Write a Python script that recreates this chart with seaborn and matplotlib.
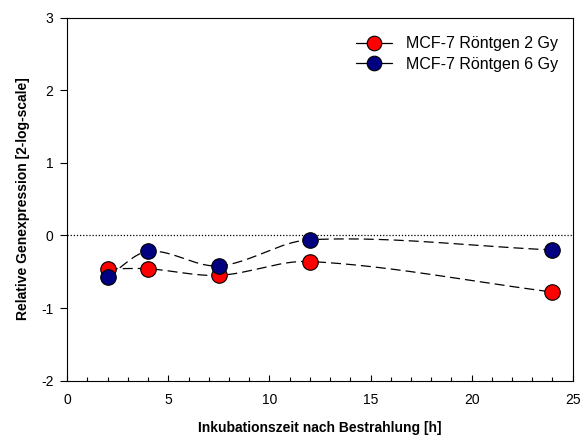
import numpy as np
import pandas as pd
import matplotlib
matplotlib.use("Agg")
import matplotlib.pyplot as plt
from matplotlib.lines import Line2D
import seaborn as sns

# Measured time points and relative expression (log2 scale)
hours = [2, 4, 7.5, 12, 24]
expr_2gy = [-0.46, -0.46, -0.55, -0.36, -0.78]
expr_6gy = [-0.57, -0.22, -0.42, -0.06, -0.20]
series_names = ["MCF-7 Röntgen 2 Gy", "MCF-7 Röntgen 6 Gy"]
series_colors = ["#ff0000", "#000080"]


def smooth_curve(x, y, n=300):
    """Cubic Hermite curve through the points, tangents from neighbouring slopes."""
    x = np.asarray(x, float)
    y = np.asarray(y, float)
    k = len(x)
    m = np.zeros(k)
    m[0] = (y[1] - y[0]) / (x[1] - x[0])
    m[-1] = (y[-1] - y[-2]) / (x[-1] - x[-2])
    for i in range(1, k - 1):
        m[i] = (y[i + 1] - y[i - 1]) / (x[i + 1] - x[i - 1])
    xs = np.linspace(x[0], x[-1], n)
    idx = np.clip(np.searchsorted(x, xs) - 1, 0, k - 2)
    h = x[idx + 1] - x[idx]
    t = (xs - x[idx]) / h
    h00 = 2 * t**3 - 3 * t**2 + 1
    h10 = t**3 - 2 * t**2 + t
    h01 = -2 * t**3 + 3 * t**2
    h11 = t**3 - t**2
    ys = h00 * y[idx] + h10 * h * m[idx] + h01 * y[idx + 1] + h11 * h * m[idx + 1]
    return xs, ys


sns.set_style("ticks")
plt.rcParams["font.family"] = ["Liberation Sans", "DejaVu Sans"]
plt.rcParams["axes.unicode_minus"] = False
plt.rcParams["text.color"] = "black"
plt.rcParams["axes.labelcolor"] = "black"
plt.rcParams["xtick.color"] = "black"
plt.rcParams["ytick.color"] = "black"

fig = plt.figure(figsize=(5.82, 4.38), dpi=100)
ax = fig.add_axes([0.1156, 0.131, 0.8684, 0.829])

ax.axhline(0, color="black", lw=0.9, ls=(0, (1, 1.5)), zorder=1)

handles = []
for name, vals, col in zip(series_names, [expr_2gy, expr_6gy], series_colors):
    xs, ys = smooth_curve(hours, vals)
    curve = pd.DataFrame({"h": xs, "v": ys})
    sns.lineplot(data=curve, x="h", y="v", ax=ax, color="black", lw=0.9,
                 sort=False, zorder=2, legend=False, linestyle=(0, (8, 4)))
    pts = pd.DataFrame({"h": hours, "v": vals})
    sns.scatterplot(data=pts, x="h", y="v", ax=ax, color=col, s=125,
                    edgecolor="black", linewidth=0.8, zorder=3, legend=False)
    handles.append(Line2D([0], [0], color="black", lw=0.9, marker="o",
                          markersize=10.5, markerfacecolor=col,
                          markeredgecolor="black", markeredgewidth=0.8,
                          label=name))

ax.set_xlim(0, 25)
ax.set_ylim(-2, 3)
ax.set_xticks([0, 5, 10, 15, 20, 25])
ax.set_xticks(np.arange(0, 26, 1), minor=True)
ax.set_yticks([-2, -1, 0, 1, 2, 3])
ax.tick_params(axis="x", which="major", direction="in", length=4, width=0.8,
               labelsize=10, pad=9, top=False)
ax.tick_params(axis="x", which="minor", direction="in", length=3, width=0.8,
               top=False)
ax.tick_params(axis="y", which="major", direction="out", length=5, width=0.8,
               labelsize=10, pad=5, right=False)
for sp in ax.spines.values():
    sp.set_visible(True)
    sp.set_color("black")
    sp.set_linewidth(0.8)

ax.set_xlabel("Inkubationszeit nach Bestrahlung [h]", fontsize=10,
              fontweight="bold", labelpad=10)
ax.set_ylabel("Relative Genexpression [2-log-scale]", fontsize=10,
              fontweight="bold", labelpad=8)

ax.legend(handles=handles, loc="upper right", bbox_to_anchor=(0.99, 0.975),
          frameon=False, fontsize=11.5, handlelength=2.2, handletextpad=0.9,
          labelspacing=0.35, borderaxespad=0.2)

fig.savefig("out.png", dpi=100)
